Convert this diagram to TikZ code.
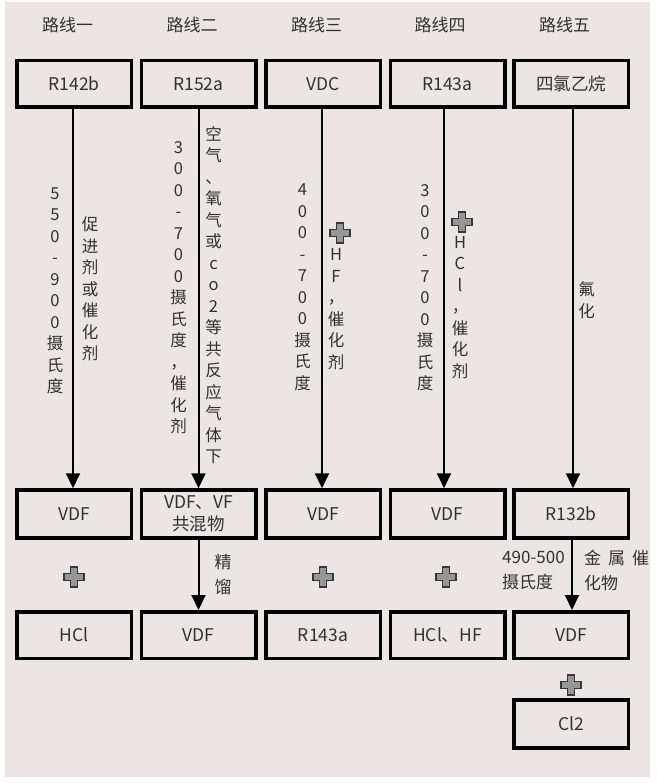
\documentclass[tikz,border=0pt]{standalone}
\usepackage{fontspec}
\setmainfont{Noto Sans CJK SC}
\usetikzlibrary{arrows.meta}
\definecolor{bgc}{RGB}{236,229,229}
\definecolor{txt}{RGB}{50,50,50}
\definecolor{plusfill}{RGB}{150,150,150}
\definecolor{plusedge}{RGB}{55,55,55}
\tikzset{
  box/.style={draw=black, line width=3.5pt, minimum width=114.5pt, minimum height=46.5pt, inner sep=0pt, text=txt, font=\fontsize{17.5}{22}\selectfont, align=center},
  tallbox/.style={box, minimum height=48pt},
  hdr/.style={text=txt, font=\fontsize{17}{20}\selectfont, inner sep=0pt},
  vlab/.style={text=txt, align=center, font=\fontsize{16.5}{21.5}\selectfont, inner sep=0pt},
  hlab/.style={text=txt, align=left, font=\fontsize{17}{25}\selectfont, inner sep=0pt, anchor=west},
  arr/.style={line width=2pt, -{Triangle[width=14pt,length=15pt]}},
  plus/.pic={\filldraw[fill=plusfill, draw=plusedge, line width=1.4pt]
    (-3.5,-10) -- (3.5,-10) -- (3.5,-3.5) -- (10,-3.5) -- (10,3.5) -- (3.5,3.5) -- (3.5,10) -- (-3.5,10) -- (-3.5,3.5) -- (-10,3.5) -- (-10,-3.5) -- (-3.5,-3.5) -- cycle;}
}
\begin{document}
\begin{tikzpicture}[x=1pt,y=-1pt]
\fill[white] (0,0) rectangle (656,783);
\useasboundingbox (0,0) rectangle (656,783);
\fill[bgc] (5,2) rectangle (650,777);

% headers
\node[hdr] (h1) at (67.5,25) {路线一};
\node[hdr] (h2) at (192,25) {路线二};
\node[hdr] (h3) at (316.5,25) {路线三};
\node[hdr] (h4) at (440,25) {路线四};
\node[hdr] (h5) at (564.5,25) {路线五};

% top boxes
\node[box] (t1) at (74,84) {R142b};
\node[box] (t2) at (198.5,84) {R152a};
\node[box] (t3) at (323,84) {VDC};
\node[box] (t4) at (447.5,84) {R143a};
\node[box] (t5) at (571,84) {四氯乙烷};

% middle boxes
\node[tallbox] (m1) at (74,514) {VDF};
\node[tallbox] (m2) at (198.5,514) {VDF、VF\\共混物};
\node[tallbox] (m3) at (323,514) {VDF};
\node[tallbox] (m4) at (447.5,514) {VDF};
\node[tallbox] (m5) at (571,514) {R132b};

% bottom boxes
\node[box] (b1) at (74,635) {HCl};
\node[box] (b2) at (198.5,635) {VDF};
\node[box] (b3) at (323,635) {R143a};
\node[box] (b4) at (447.5,635) {HCl、HF};
\node[box] (b5) at (571,635) {VDF};
\node[tallbox] (c5) at (571,724) {Cl2};

% arrows
\draw[arr] ([xshift=-1pt]t1.south) -- ([xshift=-1pt]m1.north);
\draw[arr] (t2.south) -- (m2.north);
\draw[arr] ([xshift=-1pt]t3.south) -- ([xshift=-1pt]m3.north);
\draw[arr] ([xshift=-3.5pt]t4.south) -- ([xshift=-3.5pt]m4.north);
\draw[arr] ([xshift=2pt]t5.south) -- ([xshift=2pt]m5.north);
\draw[arr] (m2.south) -- (b2.north);
\draw[arr] ([xshift=1pt]m5.south) -- ([xshift=1pt]b5.north);

% vertical labels
\node[vlab] (l1a) at (55,291) {5\\5\\0\\-\\9\\0\\0\\摄\\氏\\度};
\node[vlab] (l1b) at (90,289) {促\\进\\剂\\或\\催\\化\\剂};
\node[vlab] (l2a) at (178.5,287.5) {3\\0\\0\\-\\7\\0\\0\\摄\\氏\\度\\，\\催\\化\\剂};
\node[vlab] (l2b) at (213.5,295) {空\\气\\、\\氧\\气\\或\\c\\o\\2\\等\\共\\反\\应\\气\\体\\下};
\node[vlab] (l3a) at (302.5,287.5) {4\\0\\0\\-\\7\\0\\0\\摄\\氏\\度};
\node[vlab] (l3b) at (336,309) {H\\F\\，\\催\\化\\剂};
\node[vlab] (l4a) at (425,287.5) {3\\0\\0\\-\\7\\0\\0\\摄\\氏\\度};
\node[vlab] (l4b) at (460,307.5) {H\\C\\l\\，\\催\\化\\剂};
\node[vlab] (l5) at (586.5,300) {氟\\化};

% lower labels
\node[vlab, font=\fontsize{17}{25}\selectfont] (l2c) at (223,574.5) {精\\馏};
\node[hlab] (l5a) at (502,570.5) {490-500\\摄氏度};
\node[hlab] (l5b) at (584,570.5) {金\hspace{7pt}属\hspace{7pt}催\\化物};

% plus signs
\pic at (340,233) {plus};
\pic at (462,222) {plus};
\pic at (74,577) {plus};
\pic at (323,577) {plus};
\pic at (446,577) {plus};
\pic at (571,685) {plus};
\end{tikzpicture}
\end{document}
